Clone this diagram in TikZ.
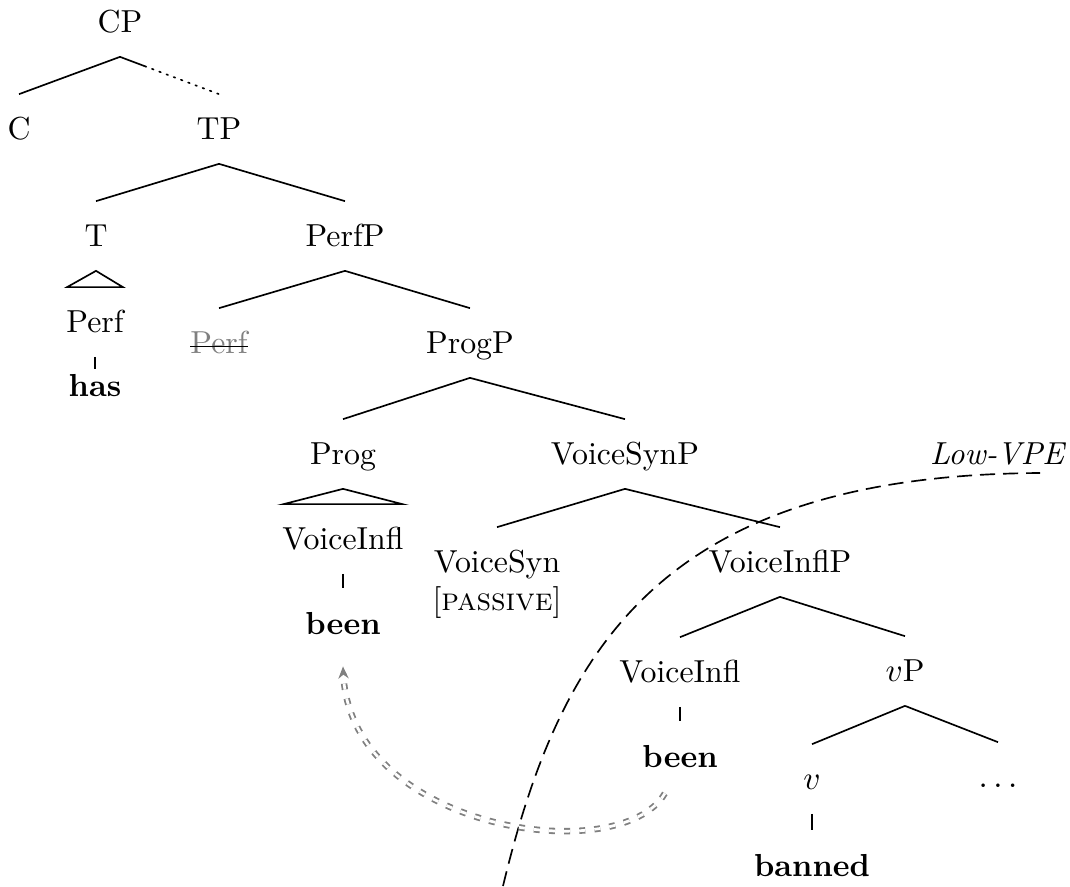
\documentclass[tikz,border=0pt]{standalone}
\usetikzlibrary{calc,arrows.meta}
\begin{document}
\begin{tikzpicture}[x=0.33pt,y=-0.33pt,
  tn/.style={inner sep=0pt,outer xsep=0pt,outer ysep=6pt,text height=9pt,text depth=2pt,font=\fontsize{10.5}{12.6}\selectfont},
  word/.style={tn,font=\fontsize{10.5}{12.6}\selectfont\bfseries,outer ysep=6.5pt},
  br/.style={line width=0.55pt},
  mv/.style={gray,line width=0.6pt,double=white,double distance=0.9pt,dash pattern=on 2pt off 3pt,-{Stealth[length=4pt,width=3.4pt]}},
  vpe/.style={line width=0.55pt,dash pattern=on 5pt off 2.6pt}]
\useasboundingbox (0,0) rectangle (1070,886);
% nodes
\node[tn] (CP) at (120,22) {CP};
\node[tn] (C) at (19,129) {C};
\node[tn] (TP) at (219,129) {TP};
\node[tn] (T) at (96,236) {T};
\node[tn] (PerfP) at (345,236) {PerfP};
\node[tn] (PerfT) at (95,322) {Perf};
\node[word,outer ysep=0pt] (has) at (95,386) {has};
\node[tn,text=gray] (strk) at (219,343) {Perf};
\node[tn] (ProgP) at (470,343) {ProgP};
\node[tn] (Prog) at (343,454) {Prog};
\node[tn] (VSP) at (625,454) {VoiceSynP};
\node[tn] (VI1) at (343,539) {VoiceInfl};
\node[word] (been1) at (343,624) {been};
\node[tn] (VS) at (497,562) {VoiceSyn};
\node[tn] (passive) at (497,600) {[\textsc{passive}]};
\node[tn] (VIP) at (780,562) {VoiceInflP};
\node[tn] (VI2) at (680,672) {VoiceInfl};
\node[word] (been2) at (680,757) {been};
\node[tn] (vP) at (905,671) {$v$P};
\node[tn] (v) at (812,779) {$v$};
\node[tn] (dots) at (998,777) {$\dots$};
\node[word] (banned) at (812,866) {banned};
\node[tn,font=\fontsize{10.5}{12.6}\selectfont\itshape] (lowvpe) at (997,454) {Low-VPE};
% branches
\draw[br] (CP.south) -- (C.north);
\draw[br] (CP.south) -- ($(CP.south)!0.25!(TP.north)$);
\draw[br,dotted,line cap=round] ($(CP.south)!0.25!(TP.north)$) -- (TP.north);
\draw[br] (TP.south) -- (T.north);
\draw[br] (TP.south) -- (PerfP.north);
\draw[br] (T.south) -- ($(PerfT.north)+(-28,0)$) -- ($(PerfT.north)+(28,0)$) -- cycle;
\draw[br] (PerfT.south) -- (has.north);
\draw[br] (PerfP.south) -- (strk.north);
\draw[br] (PerfP.south) -- (ProgP.north);
\draw[line width=0.55pt] ([yshift=-1.2pt]strk.west) -- ([yshift=-1.2pt]strk.east);
\draw[br] (ProgP.south) -- (Prog.north);
\draw[br] (ProgP.south) -- (VSP.north);
\draw[br] (Prog.south) -- ($(VI1.north)+(-59.5,0)$) -- ($(VI1.north)+(59.5,0)$) -- cycle;
\draw[br] (VI1.south) -- (been1.north);
\draw[br] (VSP.south) -- (VS.north);
\draw[br] (VSP.south) -- (VIP.north);
\draw[br] (VIP.south) -- (VI2.north);
\draw[br] (VIP.south) -- (vP.north);
\draw[br] (VI2.south) -- (been2.north);
\draw[br] (vP.south) -- (v.north);
\draw[br] (vP.south) -- (dots.north);
\draw[br] (v.south) -- (banned.north);
% Low-VPE boundary
\coordinate (vpeA) at (503,886);
\coordinate (vpeB) at (1040,473);
\draw[vpe] (vpeA) .. controls (560,650) and (660,475) .. (vpeB);
% movement arrow
\draw[mv] ([xshift=-5pt]been2.south) .. controls (620,870) and (350,830) .. ([yshift=-2pt]been1.south);
\end{tikzpicture}
\end{document}
